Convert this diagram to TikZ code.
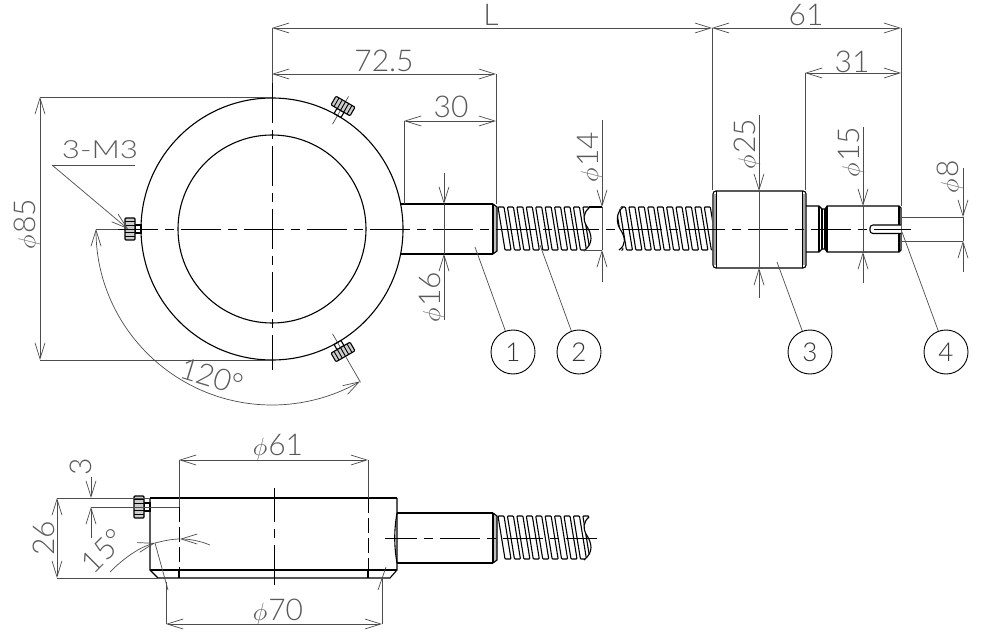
\documentclass[tikz,border=0pt]{standalone}
\usepackage{fontspec}
\newfontfamily\cadfont{Lato Light}
\usetikzlibrary{arrows.meta}
\tikzset{
  x=1pt,y=-1pt,
  outline/.style={line width=1.1pt,black},
  thick outline/.style={line width=2.2pt,black},
  dimline/.style={line width=.7pt,black!70},
  dimarrow/.style={dimline,>={Straight Barb[length=16pt,width=10pt]}},
  centerline/.style={line width=.9pt,black,dash pattern=on 40pt off 7pt on 9pt off 7pt},
  hidden/.style={line width=.9pt,black,dash pattern=on 15pt off 5pt},
  dimtext/.style={font=\cadfont\fontsize{30}{30}\selectfont,text=black!65,inner sep=0pt},
  balloon/.style={circle,draw,line width=.9pt,minimum size=44pt,inner sep=0pt,font=\cadfont\fontsize{26}{26}\selectfont,text=black!80},
  setscrew/.pic={
    \draw[outline] (131,-4) rectangle (137,4);
    \draw[outline,fill=black!20,rounded corners=1pt] (137,-11) rectangle (147,11);
    \foreach \s in {-7.5,-3.7,0,3.7,7.5} \draw[line width=.9pt] (137,\s) -- (147,\s);
  }
}
\newcommand{\phisign}{{\fontsize{27}{27}\selectfont$\phi$}\kern1pt}
% thread with its broken end, first part of the rod
\newcommand{\threadbar}[1]{
  \draw[outline,fill=white,rounded corners=.8pt] (#1,207) -- (#1+6,207) -- (#1+13,250) -- (#1+7,250) -- cycle;
}
\newcommand{\rodend}{
  \fill[black!25] (493,204) -- (497,207) -- (497,251) -- (493,254) -- cycle;
  \draw[outline] (493,204) -- (497,207) -- (497,251) -- (493,254);
  \draw[outline] (493,204) -- (493,254);
  \begin{scope}
    \clip (589,204) -- (589,208) .. controls (583,213) and (583,220) .. (586,225) .. controls (592,234) and (594,243) .. (584,251) -- (584,253) -- (497,253) -- (497,204) -- cycle;
    \foreach \k in {0,...,10} {\pgfmathsetmacro{\xk}{498+9.43*\k}\threadbar{\xk}}
  \end{scope}
  \draw[outline] (589,208) .. controls (583,213) and (583,220) .. (586,225) .. controls (592,234) and (594,243) .. (584,251);
}

\begin{document}
\begin{tikzpicture}
\useasboundingbox (0,0) rectangle (987,636);
\coordinate (ringc) at (272,229);

% ring, front view
\draw[outline] (ringc) circle[radius=131];
\draw[outline] (ringc) circle[radius=94];

% rod
\draw[outline] (401,204) -- (493,204);
\draw[outline] (401,254) -- (493,254);
\rodend
\draw[outline] (589,207) -- (602,207);
\draw[dimline] (584,250) -- (602,250);
\begin{scope}
  \clip (623,204) .. controls (616,212) and (616,222) .. (620,229) .. controls (626,238) and (626,246) .. (619,253) -- (712,253) -- (712,204) -- cycle;
  \foreach \k in {0,...,10} {\pgfmathsetmacro{\xk}{610+9.43*\k}\threadbar{\xk}}
\end{scope}
\draw[outline] (623,207) .. controls (616,213) and (616,222) .. (620,229) .. controls (626,238) and (626,245) .. (619,250);

% nut and end piece
\draw[line width=2.4pt,black!35] (715,194) -- (715,265) (804,194) -- (804,265);
\draw[outline,rounded corners=3pt] (713,191) rectangle (806,268);
\draw[outline] (716.5,191) -- (716.5,268) (802.5,191) -- (802.5,268);
\draw[outline] (806,206) -- (819,206) -- (822,209) -- (825,209) -- (827,206) -- (899,206) -- (901,208) -- (901,250) -- (899,252) -- (827,252) -- (825,249) -- (822,249) -- (819,252) -- (806,252);
\draw[outline] (819,206) -- (819,252) (822,209) -- (822,249) (825,209) -- (825,249) (827,206) -- (827,252) (899,206) -- (899,252);
\draw[outline,fill=white,rounded corners=3pt] (901,225) -- (870,225) -- (870,233.5) -- (901,233.5);

% center lines
\draw[dimline] (96,229) -- (118.3,229);
\draw[centerline] (118.3,229) -- (911,229);
\draw[dimline] (272,28) -- (272,83);
\draw[centerline] (272,83) -- (272,370);
\draw[dimline] (ringc) ++(-60:121) -- ++(-60:32);
\draw[dimline] (ringc) ++(60:121) -- ++(60:56);
\pic[rotate=180] at (ringc) {setscrew};
\pic[rotate=60] at (ringc) {setscrew};
\pic[rotate=-60] at (ringc) {setscrew};

% dimensions above
\draw[dimline] (712,28) -- (712,190) (901,28) -- (901,206) (496,74) -- (496,204) (404,121) -- (404,204) (805,73) -- (805,190);
\draw[dimarrow,<->] (272,28) -- (712,28);
\draw[dimarrow,<->] (712,28) -- (901,28);
\draw[dimarrow,<->] (272,74) -- (496,74);
\draw[dimarrow,<->] (404,121) -- (496,121);
\draw[dimarrow,<->] (805,73) -- (901,73);
\node[dimtext] (lenL) at (491,15) {L};
\node[dimtext] (len61) at (806,15) {61};
\node[dimtext] (len72) at (384,61) {72.5};
\node[dimtext] (len30) at (451,107) {30};
\node[dimtext] (len31) at (852,62) {31};

% ring diameter and screws
\draw[dimline] (40,97) -- (272,97) (40,360) -- (272,360);
\draw[dimarrow,<->] (40,97) -- (40,360);
\node[dimtext,rotate=90] (dia85) at (27,224) {\phisign 85};
\node[dimtext,font=\cadfont\fontsize{25}{25}\selectfont,xscale=1.25] (callout) at (100,150) {3-M3};
\coordinate (calltip) at (128,229);
\draw[dimline] (52,165) -- (135,165);
\draw[dimarrow,->] (52,165) -- (calltip);
\draw[dimarrow,<->] (96,229) arc[start angle=180,end angle=60,radius=176];
\node[dimtext,rotate=-17] (ang120) at (212,377) {120°};

% diameters on the rod
\draw[dimline] (444,204) -- (444,254) (602,207) -- (602,250) (759,191) -- (759,268) (863,206) -- (863,252) (963,217) -- (963,241);
\draw[dimline] (901,217) -- (963,217) (901,241) -- (963,241);
\draw[dimarrow,->] (444,173) -- (444,204);
\draw[dimarrow,->] (444,320) -- (444,254);
\draw[dimarrow,->] (602,120) -- (602,207);
\draw[dimarrow,->] (602,282) -- (602,250);
\draw[dimarrow,->] (759,115) -- (759,191);
\draw[dimarrow,->] (759,298) -- (759,268);
\draw[dimarrow,->] (863,127) -- (863,206);
\draw[dimarrow,->] (863,283) -- (863,252);
\draw[dimarrow,->] (963,168) -- (963,217);
\draw[dimarrow,->] (963,272) -- (963,241);
\node[dimtext,rotate=90] (dia16) at (432,297) {\phisign 16};
\node[dimtext,rotate=90] (dia14) at (590,157) {\phisign 14};
\node[dimtext,rotate=90] (dia25) at (747,144) {\phisign 25};
\node[dimtext,rotate=90] (dia15) at (851,152) {\phisign 15};
\node[dimtext,rotate=90] (dia8) at (950,177) {\phisign 8};

% part numbers
\node[balloon] (part1) at (513,352) {1};
\node[balloon] (part2) at (579,352) {2};
\node[balloon] (part3) at (810,352) {3};
\node[balloon] (part4) at (946,352) {4};
\coordinate (lead1) at (475,247);
\coordinate (lead2) at (540,245);
\coordinate (lead3) at (777,262);
\coordinate (lead4) at (902,232);
\draw[dimline] (lead1) -- (part1);
\draw[dimline] (lead2) -- (part2);
\draw[dimline] (lead3) -- (part3);
\draw[dimline] (lead4) -- (part4);

% ring, side view
\draw[outline] (150,498) -- (150,570) -- (158,578) -- (390,578) -- (397,570) -- (397,498);
\draw[outline] (150,570) -- (397,570);
\draw[thick outline] (150,498) -- (397,498);
\pic[rotate=180] at (281,507) {setscrew};
\draw[hidden] (179,507) -- (179,570);
\draw[hidden] (368,498) -- (368,570);
\draw[outline] (179,570) -- (179,578) (368,570) -- (368,578);
\draw[centerline,dash phase=6pt] (274,488) -- (274,587);
\draw[outline] (397,513) .. controls (394,530) and (394,546) .. (397,563);
\draw[outline] (397,513) -- (493,513);
\draw[outline] (397,563) -- (493,563);
\begin{scope}[shift={(0,309)}]
  \rodend
\end{scope}
\draw[centerline,dash phase=8.3pt] (385,538) -- (597,538);

% dimensions of the side view
\draw[dimline] (179,460) -- (179,507) (368,460) -- (368,498);
\draw[dimarrow,<->] (179,460) -- (368,460);
\node[dimtext] (dia61) at (278,447) {\phisign 61};
\draw[dimline] (57,498) -- (150,498) (57,578) -- (158,578) (91,507) -- (179,507);
\draw[dimarrow,<->] (57,498) -- (57,578);
\node[dimtext,rotate=90] (len26) at (44,538) {26};
\draw[dimarrow,->] (91,477) -- (91,498);
\draw[dimarrow,->] (91,538) -- (91,507);
\node[dimtext,rotate=90] (len3) at (81,467) {3};
\draw[dimarrow,->] (110,572) .. controls (125,557) and (140,547) .. (155,543);
\draw[dimarrow,->] (210,545) .. controls (200,541) and (190,539) .. (180,539);
\draw[dimline] (155,543) .. controls (163,541) and (172,539) .. (180,539);
\node[dimtext,rotate=45] (ang15) at (103,551) {15°};
\draw[dimline] (155,543) -- (168,590) (386,567) -- (378,590);
\draw[dimline] (166,582) -- (166,624) (382,578) -- (382,624);
\draw[dimarrow,<->] (166,624) -- (382,624);
\node[dimtext] (dia70) at (278,612) {\phisign 70};
\end{tikzpicture}
\end{document}
